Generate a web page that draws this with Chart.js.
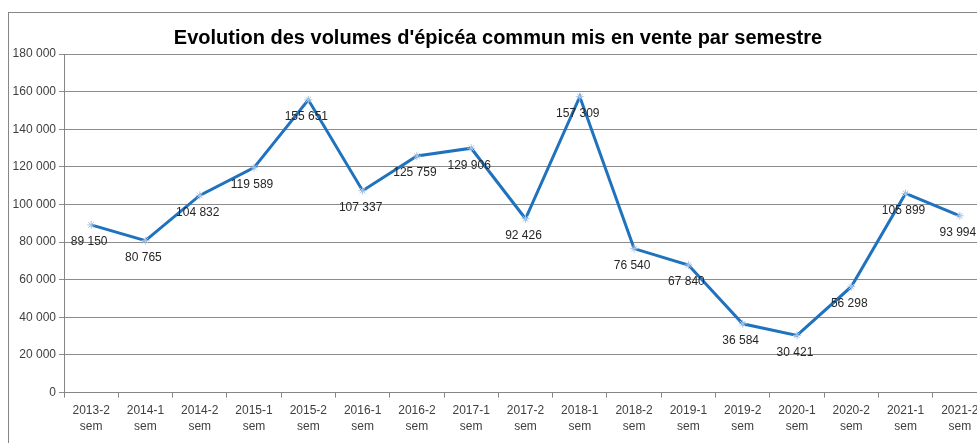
<!DOCTYPE html>
<html>
<head>
<meta charset="utf-8">
<script src="https://cdn.jsdelivr.net/npm/chart.js@4"></script>
<style>
  html, body { margin: 0; padding: 0; background: #fff; overflow: hidden; }
  #wrap { position: relative; width: 977px; height: 443px; overflow: hidden; }
  #frame { position: absolute; left: 8px; top: 12px; width: 1000px; height: 500px;
           border-left: 1px solid #868686; border-top: 1px solid #868686; }
  #holder { position: absolute; left: 0; top: 0; width: 992px; height: 443px; }
</style>
</head>
<body>
<div id="wrap">
  <div id="frame"></div>
  <div id="holder"><canvas id="chart" width="992" height="443"></canvas></div>
</div>
<script>
// semesters on the x axis (two lines each)
const categories = [
  ['2013-2', 'sem'], ['2014-1', 'sem'], ['2014-2', 'sem'], ['2015-1', 'sem'],
  ['2015-2', 'sem'], ['2016-1', 'sem'], ['2016-2', 'sem'], ['2017-1', 'sem'],
  ['2017-2', 'sem'], ['2018-1', 'sem'], ['2018-2', 'sem'], ['2019-1', 'sem'],
  ['2019-2', 'sem'], ['2020-1', 'sem'], ['2020-2', 'sem'], ['2021-1', 'sem'],
  ['2021-2', 'sem']
];
const volumes = [89150, 80765, 104832, 119589, 155651, 107337, 125759, 129906,
  92426, 157309, 76540, 67840, 36584, 30421, 56298, 105899, 93994];
const yTicks = [0, 20000, 40000, 60000, 80000, 100000, 120000, 140000, 160000, 180000];

const fmt = v => String(v).replace(/\B(?=(\d{3})+(?!\d))/g, ' ');
const FONT = '"Liberation Sans", Arial, sans-serif';

// value labels under each point
const valueLabels = {
  id: 'valueLabels',
  afterDatasetsDraw(chart) {
    const ctx = chart.ctx;
    const meta = chart.getDatasetMeta(0);
    ctx.save();
    ctx.font = '12px ' + FONT;
    ctx.fillStyle = '#262626';
    ctx.textAlign = 'center';
    ctx.textBaseline = 'middle';
    meta.data.forEach((pt, i) => {
      ctx.fillText(fmt(volumes[i]), pt.x - 2, pt.y + 17);
    });
    ctx.restore();
  }
};

new Chart(document.getElementById('chart'), {
  type: 'line',
  data: {
    labels: categories,
    datasets: [{
      data: volumes,
      borderColor: '#1f72be',
      borderWidth: 3,
      tension: 0,
      pointStyle: 'star',
      pointRadius: 4,
      pointBorderColor: '#a9c4e6',
      pointBorderWidth: 1,
      pointBackgroundColor: '#a9c4e6'
    }]
  },
  options: {
    responsive: false,
    animation: false,
    layout: { padding: { left: 4, right: 0, top: 0, bottom: 3 } },
    plugins: {
      legend: { display: false },
      tooltip: { enabled: false },
      title: {
        display: true,
        text: "Evolution des volumes d'épicéa commun mis en vente par semestre",
        color: '#000',
        font: { family: FONT, size: 20, weight: 'bold' },
        padding: { top: 26, bottom: 4 }
      }
    },
    scales: {
      x: {
        offset: true,
        grid: {
          display: true,
          drawOnChartArea: false,
          offset: true,
          color: '#868686',
          tickLength: 5
        },
        border: { color: '#868686', width: 1 },
        ticks: {
          color: '#404040',
          font: { family: FONT, size: 12, lineHeight: 1.35 },
          maxRotation: 0,
          autoSkip: false,
          padding: 5
        }
      },
      y: {
        min: 0,
        max: 180000,
        afterBuildTicks: s => { s.ticks = yTicks.map(v => ({ value: v })); },
        afterFit: s => { s.width = 60; },
        grid: { color: '#8c8c8c', tickLength: 5 },
        border: { color: '#868686', width: 1 },
        ticks: {
          color: '#404040',
          font: { family: FONT, size: 12 },
          padding: 3,
          callback: v => fmt(v)
        }
      }
    }
  },
  plugins: [valueLabels]
});
</script>
</body>
</html>
